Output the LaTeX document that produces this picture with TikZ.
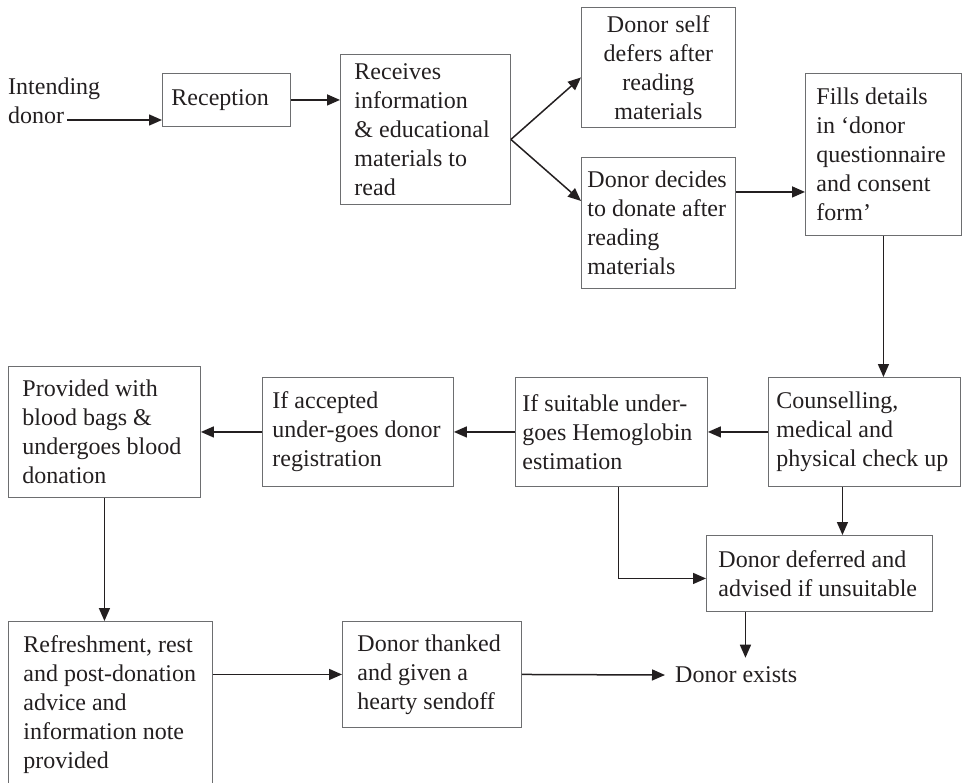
\documentclass[tikz,border=0pt]{standalone}
\usepackage{fontspec}
\setmainfont{Liberation Serif}
\usetikzlibrary{arrows.meta}

\definecolor{ink}{HTML}{231F20}
\definecolor{edge}{HTML}{6D6E70}

\tikzset{
  stage/.style={draw=edge, line width=0.9pt, anchor=north west, align=left,
    inner ysep=0pt, text=ink, font=\fontsize{24}{29}\selectfont,
    execute at begin node={\spaceskip=0pt\xspaceskip=0pt}},
  plaintext/.style={inner sep=0pt, align=left, text=ink, font=\fontsize{24}{29}\selectfont},
  flow/.style={draw=ink, line width=1.5pt, -{Triangle[length=13pt,width=11pt]}}
}

\begin{document}
\begin{tikzpicture}[x=1pt,y=-1pt]
        \useasboundingbox (0,0) rectangle (966,782);

        % First row
        \node[plaintext, anchor=north west] (intend) at (8,78) {Intending\\donor};
        \coordinate (start) at (67,120);
        \node[stage, minimum height=53pt, text width=110pt, inner xsep=9pt] (recep) at (162,73) {Reception};
        \node[stage, minimum height=150pt, text width=142pt, inner xsep=14pt] (info) at (340,54) {Receives\\information\\\& educational\\materials to\\read};
        \node[stage, align=center, minimum height=120pt, text width=138pt, inner xsep=8pt] (selfdef) at (581,7) {Donor self\\defers after\\reading\\materials};
        \node[stage, minimum height=131pt, text width=142pt, inner xsep=6pt] (decide) at (581,157) {Donor decides\\to donate after\\reading\\materials};
        \node[stage, minimum height=162pt, text width=134pt, inner xsep=11pt] (fills) at (805,73) {Fills details\\in `donor\\questionnaire\\and consent\\form'};

        % Second row
        \node[stage, minimum height=109pt, text width=176pt, inner xsep=8pt] (counsel) at (768,377) {Counselling,\\medical and\\physical check up};
        \node[stage, minimum height=109pt, text width=178pt, inner xsep=7pt] (suit) at (515,377) {If suitable under-\\goes Hemoglobin\\estimation};
        \node[stage, minimum height=109pt, text width=171pt, inner xsep=10pt] (accept) at (262,377) {If accepted\\under-goes donor\\registration};
        \node[stage, minimum height=131pt, text width=164pt, inner xsep=14pt] (provided) at (8,366) {Provided with\\blood bags \&\\undergoes blood\\donation};
        \node[stage, minimum height=76pt, text width=202pt, inner xsep=12pt] (deferred) at (706,535) {Donor deferred and\\advised if unsuitable};

        % Last row
        \node[stage, minimum height=166pt, text width=174pt, inner xsep=15pt] (refresh) at (8,621) {Refreshment, rest\\and post-donation\\advice and\\information note\\provided};
        \node[stage, minimum height=106pt, text width=149pt, inner xsep=15pt] (thanked) at (342,621) {Donor thanked\\and given a\\hearty sendoff};
        \node[plaintext, anchor=west, inner xsep=10pt, inner ysep=9pt] (exists) at (665,675) {Donor exists};

        % Arrows
        \draw[flow] (start) -- (start -| recep.west);
        \draw[flow] (recep.east) -- (recep.east -| info.west);
        \coordinate (fork) at ([yshift=-10pt]info.east);
        \draw[flow] (fork) -- ([yshift=-10pt]selfdef.west);
        \draw[flow] (fork) -- ([yshift=22pt]decide.west);
        \draw[flow] ([yshift=31pt]decide.east) -- ([yshift=31pt]decide.east -| fills.west);
        \draw[flow] (fills.south) -- (fills.south |- counsel.north);
        \draw[flow] (counsel.west) -- (suit.east);
        \draw[flow] (suit.west) -- (accept.east);
        \draw[flow] (accept.west) -- (provided.east);
        \draw[flow] ([xshift=-22pt]counsel.south) -- ([xshift=-22pt]counsel.south |- deferred.north);
        \draw[flow] ([xshift=7pt]suit.south) |- ([yshift=-5pt]deferred.west);
        \draw[flow] ([xshift=-74pt]deferred.south) -- ([xshift=-74pt]deferred.south |- exists.north);
        \draw[flow] (provided.south) -- (provided.south |- refresh.north);
        \draw[flow] (thanked.west -| refresh.east) -- (thanked.west);
        \draw[flow] (thanked.east) -- (exists.west);
    \end{tikzpicture}
\end{document}
